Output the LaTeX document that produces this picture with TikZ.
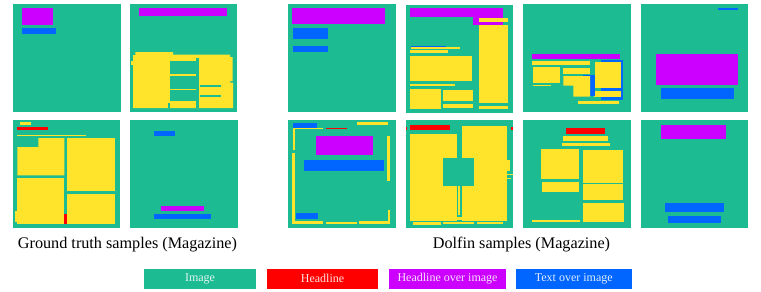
\documentclass[tikz,border=0pt]{standalone}
\usepackage{fontspec}
\setmainfont{Liberation Serif}
\definecolor{gr}{RGB}{29,187,146}
\definecolor{ye}{RGB}{255,228,43}
\definecolor{mg}{RGB}{204,0,255}
\definecolor{bl}{RGB}{0,102,255}
\definecolor{rd}{RGB}{255,0,0}
\newcommand{\rr}[5]{\fill[#1] (#2,#3) rectangle (#4,#5);}
\begin{document}
\begin{tikzpicture}[x=1pt,y=-1pt,
  caption/.style={font=\fontsize{16.2}{18}\selectfont, anchor=base, inner sep=0},
  legbox/.style={minimum height=20pt, inner sep=0, text=white, text opacity=0.88,
    font=\fontsize{12}{14}\selectfont}]
\useasboundingbox (0,0) rectangle (761,292);
% panel backgrounds
\foreach \px/\py in {13/4.3,129.5/4.3,12.5/120.3,130/120.3,288/4.3,405.5/5,523/4.3,640.5/4.3,288/120.3,405.5/120.3,523/120.3,640.5/120.3}
  {\fill[gr] (\px,\py) rectangle ++(107.5,107.5);}
% ---------- Panel 1
\rr{mg}{22}{7.7}{53}{25}
\rr{bl}{22}{28}{55.7}{34.3}
% ---------- Panel 2
\rr{mg}{139}{7.7}{227}{15.7}
\fill[ye] (133,55)--(135.3,55)--(135.3,52)--(173,52)--(173,54.7)--(230,54.7)--(230,57)--(232.5,57)
  --(232.5,81)--(230,81)--(230,82.5)--(233,82.5)--(233,108)--(133,108)--cycle;
\rr{ye}{131.3}{61}{133}{65}
\rr{gr}{169.7}{61.3}{195.7}{74}
\rr{gr}{169.7}{76}{195.7}{88.5}
\rr{gr}{169.7}{90.3}{196}{101.3}
\rr{gr}{196.3}{58}{199.3}{108}
\rr{gr}{199.5}{84.5}{221}{86.5}
\rr{gr}{199.5}{94.7}{221}{97}
\rr{gr}{168}{103}{169.5}{108}
% ---------- Panel 3
\rr{ye}{20}{122.3}{30.7}{125}
\rr{rd}{17.3}{127}{47.7}{130.3}
\rr{ye}{17.3}{134.7}{86}{136.3}
\fill[ye] (38.3,138)--(64.3,138)--(64.3,175.3)--(17.3,175.3)--(17.3,147)--(38.3,147)--cycle;
\rr{ye}{17.3}{177.7}{64.3}{223.7}
\rr{ye}{15}{211}{17.3}{222}
\rr{rd}{64.3}{213.7}{66.7}{223.7}
\rr{ye}{67.3}{138}{114.7}{191.3}
\rr{ye}{67.3}{193.7}{114.7}{223.7}
% ---------- Panel 4
\rr{bl}{154.3}{131.3}{175}{136}
\rr{mg}{161}{206}{203.7}{211}
\rr{bl}{154.3}{213.7}{210.7}{218.7}
% ---------- Panel 5
\rr{mg}{292}{7.7}{385.3}{24.3}
\rr{bl}{293}{28}{328.3}{39.3}
\rr{bl}{293}{45.7}{328.3}{51.7}
% ---------- Panel 6
\rr{mg}{409.7}{7.7}{502.7}{16.7}
\rr{mg}{472.7}{16.7}{502.7}{25}
\rr{ye}{479.3}{17.7}{508}{22.3}
\rr{ye}{479.3}{25}{508}{103.3}
\rr{ye}{479.3}{105.7}{508}{109}
\rr{bl}{410.7}{46}{445.7}{48.7}
\rr{ye}{410.7}{47}{460}{49}
\rr{ye}{409.7}{49.7}{448.3}{52.7}
\rr{ye}{409.7}{56}{472}{81}
\rr{ye}{409.7}{83.7}{455}{85.7}
\rr{ye}{409.7}{88.7}{441}{109}
\rr{ye}{443}{89.7}{472.7}{101.3}
\rr{ye}{443}{103.7}{472.7}{107.7}
% ---------- Panel 7
\rr{mg}{532}{53.7}{620.3}{59}
\rr{ye}{532}{61.3}{590}{65}
\rr{bl}{601}{59.7}{622.7}{99.7}
\rr{ye}{595}{61.7}{621}{88.3}
\rr{ye}{594.3}{90.7}{621}{97.3}
\rr{bl}{583.3}{75}{595}{96}
\rr{ye}{533}{66.7}{559.7}{83.3}
\rr{ye}{533}{85}{551.3}{86}
\rr{ye}{563.3}{67.7}{590}{74}
\fill[ye] (563.3,76)--(590,76)--(590,96.7)--(573.3,96.7)--(573.3,85.7)--(563.3,85.7)--cycle;
\rr{ye}{578.3}{101}{618.7}{104.3}
% ---------- Panel 8
\rr{bl}{717.7}{7.7}{737.7}{10}
\rr{mg}{656.3}{53.7}{738.3}{85}
\rr{bl}{660.7}{87.7}{733.7}{98.7}
% ---------- Panel 9
\rr{bl}{293}{123}{317.3}{128}
\rr{ye}{293}{127.7}{322.7}{128.7}
\rr{rd}{325.7}{127.7}{346.7}{128.7}
\rr{ye}{357}{122}{387.7}{125.3}
\rr{ye}{293}{128.7}{295.3}{149.7}
\rr{ye}{292}{152.7}{294.7}{223.7}
\rr{ye}{292}{221}{322.7}{223.7}
\rr{ye}{325.7}{222}{356.7}{224.3}
\rr{ye}{359.3}{221}{390.3}{223.7}
\rr{ye}{387.7}{209.7}{390.3}{223.7}
\rr{ye}{387.3}{136.3}{390}{181}
\rr{mg}{316}{136.3}{372.7}{154.7}
\rr{bl}{304}{160.3}{383.7}{170.7}
\rr{bl}{296.3}{213}{318}{218.7}
% ---------- Panel 10
\rr{rd}{409.7}{125.3}{449.7}{129.7}
\rr{rd}{405.5}{127}{407}{130}
\rr{rd}{511}{127}{513}{130}
\rr{ye}{410.3}{133.7}{457.3}{221}
\rr{ye}{461.7}{126.3}{506.7}{221}
\rr{ye}{506.7}{160.3}{510}{171.3}
\rr{ye}{505}{173.7}{512.7}{175}
\rr{ye}{505}{177.5}{511}{179}
\rr{ye}{458.3}{186}{459.5}{215}
\rr{ye}{457}{216.5}{462}{219.5}
\rr{gr}{443.3}{158}{474.3}{186}
\rr{ye}{412.7}{222.3}{441}{224.5}
\rr{ye}{443}{221.8}{474}{223.5}
\rr{ye}{476.7}{221.8}{502.7}{223.5}
% ---------- Panel 11
\rr{rd}{566}{127.7}{605}{134.3}
\rr{ye}{563.3}{136.3}{608.3}{141}
\rr{ye}{561.7}{143}{610}{146.3}
\rr{ye}{541.3}{149}{579}{179}
\rr{ye}{542.3}{181.7}{579}{191.7}
\rr{ye}{582.7}{149.7}{622.7}{183}
\rr{ye}{582.7}{184.3}{622.7}{200}
\rr{ye}{582.7}{202.7}{624}{222}
\rr{ye}{532}{220.3}{580}{222}
% ---------- Panel 12
\rr{mg}{661.3}{125.3}{726}{138.7}
\rr{bl}{665}{203}{723.7}{212}
\rr{bl}{668}{216.3}{721}{223}
% ---------- captions
\node[caption] (capgt) at (127.5,248.7) {Ground truth samples (Magazine)};
\node[caption] (capdf) at (521.5,248.7) {Dolfin samples (Magazine)};
% ---------- legend
\node[legbox, fill=gr, minimum width=112pt] (lgimg) at (200,278.7) {Image};
\node[legbox, fill=rd, minimum width=111pt] (lghl) at (322.5,278.7) {Headline};
\node[legbox, fill=mg, minimum width=116.4pt] (lghoi) at (447.5,278.7) {Headline over image};
\node[legbox, fill=bl, minimum width=115.7pt] (lgtoi) at (573.8,278.7) {Text over image};
\end{tikzpicture}
\end{document}
